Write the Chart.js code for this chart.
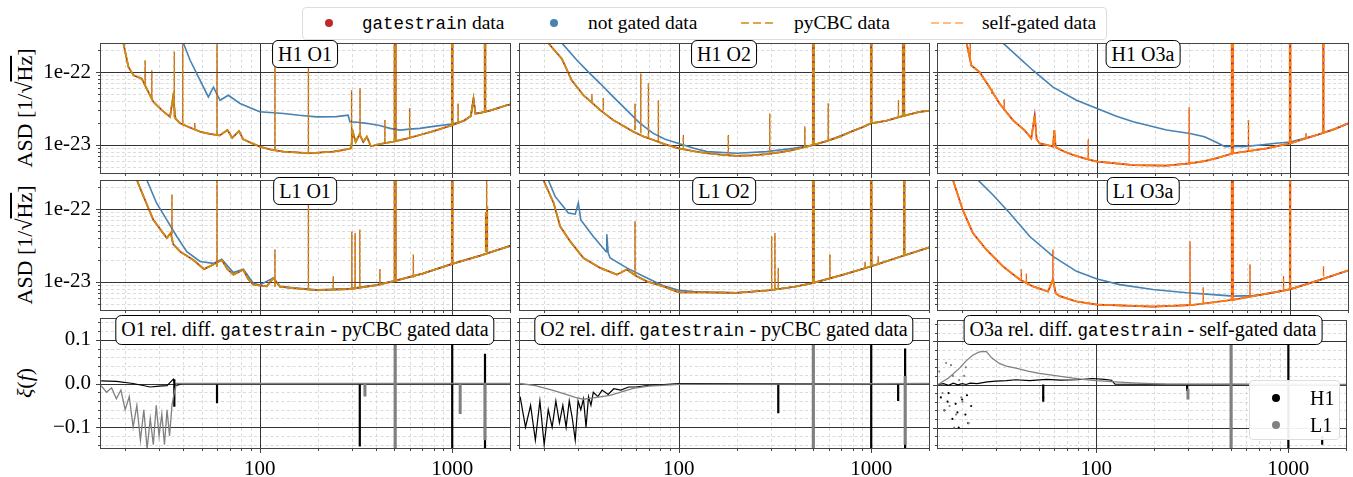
<!DOCTYPE html>
<html>
<head>
<meta charset="utf-8">
<title>gatestrain ASD comparison</title>
<script src="https://cdn.jsdelivr.net/npm/chart.js@4.4.1/dist/chart.umd.min.js"></script>
<style>
  body { margin: 0; background: #fff; }
  #page { position: relative; width: 1353px; height: 477px; overflow: hidden; font-family: "Liberation Serif", serif; color: #000; }
  #page canvas { position: absolute; }
  .box { position: absolute; background: #fff; border: 1px solid #000; border-radius: 6px; font-family: "Liberation Serif", serif; font-size: 20px; line-height: 22px; padding: 2px 5px; white-space: nowrap; transform: translateX(-50%); z-index: 5; }
  .tt { font-family: "Liberation Mono", monospace; font-size: 17.5px; }
  .legend { position: absolute; background: rgba(255,255,255,0.92); border: 1px solid #ddd; border-radius: 4px; z-index: 6; font-family: "Liberation Serif", serif; font-size: 19.5px; }
  .legend .item { position: absolute; white-space: nowrap; line-height: 20px; }
  .dot { position: absolute; width: 8px; height: 8px; border-radius: 50%; }
  .dash { position: absolute; height: 2px; width: 33px; }
  .ylab { position: absolute; white-space: nowrap; font-family: "Liberation Serif", serif; font-size: 22px; transform: translate(-50%, -50%) rotate(-90deg); }
</style>
</head>
<body>
<div id="page">
  <div class="legend" style="left:302px;top:7px;width:803px;height:31px;">
    <span class="dot" style="left:22px;top:11px;background:#c0282d"></span>
    <span class="item" style="left:59px;top:5px"><span class="tt">gatestrain</span> data</span>
    <span class="dot" style="left:247px;top:11px;background:#4682b4"></span>
    <span class="item" style="left:285px;top:5px">not gated data</span>
    <span class="dash" style="left:438px;top:14px;background:repeating-linear-gradient(90deg,#dba74a 0 8px,transparent 8px 12px)"></span>
    <span class="item" style="left:491px;top:5px">pyCBC data</span>
    <span class="dash" style="left:628px;top:14px;background:repeating-linear-gradient(90deg,#ffbe80 0 8px,transparent 8px 12px)"></span>
    <span class="item" style="left:679px;top:5px">self-gated data</span>
  </div>

  <div class="ylab" style="left:25px;top:108px">ASD [1/√<span style="text-decoration:overline">Hz</span>]</div>
  <div class="ylab" style="left:25px;top:245px">ASD [1/√<span style="text-decoration:overline">Hz</span>]</div>
  <div class="ylab" style="left:25px;top:383px"><i>ξ</i>(<i>f</i>)</div>

  <div class="box" style="left:305px;top:40px">H1 O1</div>
  <div class="box" style="left:724px;top:40px">H1 O2</div>
  <div class="box" style="left:1143px;top:40px">H1 O3a</div>
  <div class="box" style="left:305px;top:177px">L1 O1</div>
  <div class="box" style="left:724px;top:177px">L1 O2</div>
  <div class="box" style="left:1143px;top:177px">L1 O3a</div>
  <div class="box" style="left:305px;top:315px">O1 rel. diff. <span class="tt">gatestrain</span> - pyCBC gated data</div>
  <div class="box" style="left:724px;top:315px">O2 rel. diff. <span class="tt">gatestrain</span> - pyCBC gated data</div>
  <div class="box" style="left:1143px;top:315px">O3a rel. diff. <span class="tt">gatestrain</span> - self-gated data</div>

  <div class="legend" style="left:1249px;top:380px;width:89px;height:58px;font-size:20px">
    <span class="dot" style="left:22px;top:13px;background:#000"></span>
    <span class="item" style="left:60px;top:7px">H1</span>
    <span class="dot" style="left:22px;top:40px;background:#808080"></span>
    <span class="item" style="left:60px;top:34px">L1</span>
  </div>
</div>
<script>
// ---- axis ticks ----
const freqTicks = [100, 1000];
const freqTickLabels = ['100', '1000'];
const freqMinor = [20, 30, 40, 50, 60, 70, 80, 90, 200, 300, 400, 500, 600, 700, 800, 900, 2000];
const asdTicks = [1e-23, 1e-22];
const asdTickLabels = ['1e-23', '1e-22'];
const asdMinor = [5e-24, 6e-24, 7e-24, 8e-24, 9e-24, 2e-23, 3e-23, 4e-23, 5e-23, 6e-23, 7e-23, 8e-23, 9e-23, 2e-22];
const diffTicks = [-0.1, 0, 0.1];
const diffTickLabels = ['\u22120.1', '0.0', '0.1'];
const diffMinor = [-0.14, -0.12, -0.08, -0.06, -0.04, -0.02, 0.02, 0.04, 0.06, 0.08, 0.12, 0.14];

// ---- H1 O1 ----
const h1o1F = [15, 19.5, 20.8, 22.1, 24.4, 26.5, 28, 31, 34.2, 35.5, 36.5, 38.6, 43, 49, 55, 62, 68, 72, 78, 82, 88, 100, 115, 133, 155, 179, 210, 241, 270, 298, 305, 315, 330, 345, 360, 378, 420, 494, 580, 679, 800, 1000, 1150, 1250, 1290, 1320, 1400, 1600, 1915, 2020];
const h1o1Gated = [6e-22, 2.6e-22, 1.17e-22, 9.0e-23, 8.1e-23, 5.2e-23, 3.9e-23, 3.0e-23, 2.43e-23, 4.6e-23, 2.3e-23, 1.98e-23, 1.75e-23, 1.52e-23, 1.42e-23, 1.35e-23, 1.6e-23, 1.25e-23, 1.55e-23, 1.2e-23, 1.1e-23, 9.5e-24, 8.6e-24, 8.1e-24, 7.9e-24, 7.7e-24, 7.9e-24, 8.1e-24, 8.5e-24, 9.0e-24, 1.5e-23, 1.1e-23, 1.4e-23, 1.1e-23, 1.3e-23, 9.6e-24, 1.03e-23, 1.11e-23, 1.22e-23, 1.37e-23, 1.55e-23, 1.87e-23, 2.15e-23, 2.5e-23, 4.3e-23, 2.7e-23, 2.75e-23, 3.0e-23, 3.5e-23, 3.6e-23];
const h1o1RawF = [38, 40.1, 43.5, 49, 54.1, 57.5, 62.2, 68.7, 79, 100, 133, 160, 198, 250, 288, 294, 320, 359, 420, 475, 535, 600, 679, 800, 1000, 1150, 1250, 1290, 1320, 1400, 1600, 1915, 2020];
const h1o1Raw = [4e-22, 2.5e-22, 1.45e-22, 7.7e-23, 4.56e-23, 6.2e-23, 4.1e-23, 4.8e-23, 3.7e-23, 2.85e-23, 2.7e-23, 2.55e-23, 2.43e-23, 2.45e-23, 2.56e-23, 2.08e-23, 2.05e-23, 1.98e-23, 1.85e-23, 1.69e-23, 1.6e-23, 1.65e-23, 1.69e-23, 1.8e-23, 1.94e-23, 2.15e-23, 2.5e-23, 4.3e-23, 2.7e-23, 2.75e-23, 3.0e-23, 3.5e-23, 3.6e-23];
const h1o1LineF = [25.4, 27.5, 36, 39.8, 46, 60, 120, 179, 300, 332, 447, 505, 601, 1000, 1073, 1480, 500, 511, 993, 1008, 1470, 1492];
const h1o1LineTop = [1.44e-22, 1.05e-22, 1.9e-22, 5e-22, 2.0e-23, 5e-22, 1.44e-22, 1.12e-22, 5.6e-23, 6e-23, 2.2e-23, 5e-22, 3.2e-23, 5e-22, 3.7e-23, 5e-22, 5e-22, 5e-22, 5e-22, 5e-22, 5e-22, 5e-22];
const h1o1LineBase = [6.5e-23, 4.2e-23, 2.4e-23, 2.0e-23, 1.6e-23, 1.38e-23, 8.4e-24, 7.7e-24, 9.0e-24, 1.3e-23, 1.05e-23, 1.11e-23, 1.25e-23, 1.87e-23, 2.0e-23, 2.8e-23, 1.1e-23, 1.12e-23, 1.86e-23, 1.88e-23, 2.78e-23, 2.8e-23];

// ---- H1 O2 ----
const h1o2F = [15, 20, 21, 24.7, 27.8, 32, 35.4, 39.1, 45.7, 52, 58.1, 66, 73.8, 85, 100, 120, 140, 170, 200, 240, 286, 340, 394, 450, 500, 580, 688, 800, 900, 1000, 1200, 1407, 1791, 2020];
const h1o2Gated = [8e-22, 3.5e-22, 2.5e-22, 1.52e-22, 7.7e-23, 4.8e-23, 3.8e-23, 3.0e-23, 2.19e-23, 1.8e-23, 1.52e-23, 1.3e-23, 1.17e-23, 1.02e-23, 9.0e-24, 8.2e-24, 7.7e-24, 7.3e-24, 7.1e-24, 7.2e-24, 7.5e-24, 8.0e-24, 8.55e-24, 9.3e-24, 1.0e-23, 1.12e-23, 1.3e-23, 1.55e-23, 1.75e-23, 1.98e-23, 2.15e-23, 2.43e-23, 2.85e-23, 2.95e-23];
const h1o2RawF = [22, 24.7, 29.6, 34.6, 39.1, 45.7, 53.7, 63, 73.8, 85, 100, 120, 140, 200, 286, 394, 500, 600, 800, 900, 1000, 1200, 1407, 1791, 2020];
const h1o2Raw = [4e-22, 2.5e-22, 1.45e-22, 9.5e-23, 6.95e-23, 4.56e-23, 3.0e-23, 1.98e-23, 1.44e-23, 1.2e-23, 1.05e-23, 9.0e-24, 8.1e-24, 7.7e-24, 8.1e-24, 9.0e-24, 1.0e-23, 1.15e-23, 1.55e-23, 1.75e-23, 1.98e-23, 2.15e-23, 2.43e-23, 2.85e-23, 2.95e-23];
const h1o2LineF = [35.4, 40.6, 59.3, 63.5, 69.6, 78.4, 105.7, 181, 297, 452, 500, 598, 1000, 1385, 1466, 1480, 496, 506, 993, 1008, 1455, 1490];
const h1o2LineTop = [5e-23, 4.4e-23, 3.7e-23, 9.5e-23, 7e-23, 4.1e-23, 1.37e-23, 1.37e-23, 2.7e-23, 1.8e-23, 5e-22, 3.7e-23, 5e-22, 4.1e-23, 5e-22, 5e-22, 5e-22, 5e-22, 5e-22, 5e-22, 5e-22, 5e-22];
const h1o2LineBase = [3.9e-23, 3.0e-23, 1.6e-23, 1.45e-23, 1.25e-23, 1.12e-23, 8.8e-24, 7.3e-24, 7.5e-24, 9.3e-24, 1.0e-23, 1.15e-23, 1.98e-23, 2.4e-23, 2.45e-23, 2.45e-23, 1.0e-23, 1.0e-23, 1.97e-23, 1.99e-23, 2.44e-23, 2.46e-23];

// ---- H1 O3a ----
const h1o3F = [18, 21, 22.3, 24.6, 27.7, 31.2, 36.6, 42, 45.6, 47.5, 48.6, 50.4, 55, 59.1, 60, 61, 67, 75.1, 85, 100, 125, 153.8, 229, 303, 360, 417, 508, 600, 757, 1000, 1378, 1700, 2020];
const h1o3Gated = [5e-22, 2.6e-22, 1.23e-22, 1.0e-22, 6.2e-23, 3.7e-23, 2.19e-23, 1.6e-23, 1.23e-23, 2.56e-23, 1.2e-23, 1.05e-23, 1.0e-23, 9.5e-24, 1.6e-23, 9.3e-24, 8.2e-24, 7.3e-24, 6.6e-24, 5.9e-24, 5.6e-24, 5.3e-24, 5.2e-24, 5.6e-24, 6.0e-24, 6.6e-24, 7.7e-24, 8.2e-24, 9.0e-24, 1.05e-23, 1.37e-23, 1.65e-23, 2.0e-23];
const h1o3RawF = [30, 32.5, 38.2, 46.6, 59.1, 78.2, 100, 125, 153.8, 229, 303, 360, 417, 460, 520, 570, 700, 820, 1000, 1378, 1700, 2020];
const h1o3Raw = [4e-22, 2.5e-22, 1.69e-22, 1.05e-22, 6.2e-23, 4.1e-23, 3.16e-23, 2.5e-23, 2.08e-23, 1.6e-23, 1.44e-23, 1.3e-23, 1.08e-23, 9.5e-24, 9.6e-24, 9.5e-24, 1.0e-23, 1.05e-23, 1.1e-23, 1.37e-23, 1.65e-23, 2.0e-23];
const h1o3LineF = [21, 22, 28.5, 33, 90, 300, 502, 609, 1000, 1210, 1488, 497, 508, 993, 1008, 1480, 1496];
const h1o3LineTop = [5e-22, 3e-22, 5.8e-23, 4.2e-23, 1.2e-23, 3.3e-23, 5e-22, 2.2e-23, 5e-22, 1.45e-23, 5e-22, 5e-22, 5e-22, 5e-22, 5e-22, 5e-22, 5e-22];
const h1o3LineBase = [2.6e-22, 1.5e-22, 5.0e-23, 3.0e-23, 6.3e-24, 5.6e-24, 7.7e-24, 8.3e-24, 1.05e-23, 1.23e-23, 1.5e-23, 7.6e-24, 7.7e-24, 1.04e-23, 1.06e-23, 1.5e-23, 1.5e-23];

// ---- L1 O1 ----
const l1o1F = [15, 21, 23, 24.9, 28, 32.9, 34.5, 35.5, 38.6, 45.2, 51.4, 57.4, 63.5, 68, 73, 82.2, 87, 92.6, 108.7, 117.7, 127.5, 150, 198, 294, 400, 494, 700, 1000, 1400, 2020];
const l1o1Gated = [8e-22, 3.5e-22, 2.5e-22, 1.49e-22, 7.1e-23, 4.0e-23, 4.7e-23, 3.3e-23, 2.6e-23, 2.0e-23, 1.5e-23, 1.73e-23, 2.0e-23, 1.5e-23, 1.26e-23, 1.47e-23, 1.1e-23, 9.2e-24, 8.7e-24, 1.13e-23, 8.6e-24, 8.2e-24, 7.7e-24, 8.0e-24, 9.0e-24, 1.02e-23, 1.3e-23, 1.77e-23, 2.3e-23, 3.15e-23];
const l1o1RawF = [24, 25.9, 29.1, 32.9, 37.1, 41.8, 49, 57.4, 63.5, 73, 82.2, 92.6, 100, 117.7, 127.5, 150, 198, 294, 400, 494, 700, 1000, 1400, 2020];
const l1o1Raw = [3.5e-22, 2.5e-22, 1.21e-22, 7.1e-23, 4.2e-23, 2.6e-23, 1.91e-23, 1.8e-23, 2.05e-23, 1.35e-23, 1.5e-23, 9.6e-24, 9.1e-24, 1.13e-23, 8.7e-24, 8.3e-24, 7.8e-24, 8.1e-24, 9.1e-24, 1.03e-23, 1.3e-23, 1.77e-23, 2.3e-23, 3.15e-23];
const l1o1LineF = [35, 60, 120, 179, 241, 301, 313, 331, 421, 505, 628, 1000, 1510, 500, 511, 993, 1008, 1490, 1525];
const l1o1LineTop = [1.57e-22, 5e-22, 2.77e-23, 5e-22, 1.2e-23, 4.9e-23, 4.7e-23, 5.2e-23, 1.5e-23, 5e-22, 2.37e-23, 5e-22, 5e-22, 5e-22, 5e-22, 5e-22, 5e-22, 9e-23, 1.1e-22];
const l1o1LineBase = [4.5e-23, 1.6e-23, 8.6e-24, 7.8e-24, 7.9e-24, 8.0e-24, 8.1e-24, 8.3e-24, 9.0e-24, 1.02e-23, 1.15e-23, 1.77e-23, 2.6e-23, 1.02e-23, 1.02e-23, 1.77e-23, 1.78e-23, 2.58e-23, 2.62e-23];

// ---- L1 O2 ----
const l1o2F = [15, 19.8, 22.4, 24.2, 27.3, 32, 39.1, 47.7, 53.7, 60.5, 68.2, 83.2, 100, 145, 200, 297, 400, 500, 716, 1003, 1400, 2020];
const l1o2Gated = [1e-21, 2.5e-22, 1.21e-22, 5.8e-23, 3.6e-23, 2.13e-23, 1.56e-23, 1.26e-23, 1.48e-23, 1.2e-23, 1.02e-23, 8.7e-24, 7.2e-24, 7.2e-24, 7.1e-24, 7.7e-24, 8.6e-24, 9.7e-24, 1.26e-23, 1.64e-23, 2.2e-23, 3.0e-23];
const l1o2RawF = [19, 21, 22.8, 25, 26.7, 29, 30.1, 31, 36, 42, 42.3, 43, 44, 53.7, 65.5, 83.2, 100, 120, 145, 200, 297, 400, 500, 716, 1003, 1400, 2020];
const l1o2Raw = [4e-22, 2.5e-22, 1.49e-22, 1.1e-22, 8.8e-23, 8.5e-23, 1.21e-22, 7.1e-23, 4.2e-23, 2.6e-23, 4.5e-23, 2.5e-23, 2.13e-23, 1.56e-23, 1.2e-23, 8.9e-24, 7.7e-24, 7.4e-24, 7.2e-24, 7.1e-24, 7.7e-24, 8.6e-24, 9.7e-24, 1.26e-23, 1.64e-23, 2.2e-23, 3.0e-23];
const l1o2LineF = [59.3, 304, 316, 329, 500, 610, 929, 1000, 1087, 1485, 496, 506, 993, 1008, 1475, 1495];
const l1o2LineTop = [6.8e-23, 4.2e-23, 4.7e-23, 1.56e-23, 5e-22, 2.37e-23, 1.9e-23, 5e-22, 2.24e-23, 5e-22, 5e-22, 5e-22, 5e-22, 5e-22, 5e-22, 5e-22];
const l1o2LineBase = [1.2e-23, 7.7e-24, 7.8e-24, 7.9e-24, 9.7e-24, 1.1e-23, 1.55e-23, 1.64e-23, 1.75e-23, 2.35e-23, 9.7e-24, 9.7e-24, 1.63e-23, 1.65e-23, 2.34e-23, 2.36e-23];

// ---- L1 O3a ----
const l1o3F = [15, 17.9, 20.1, 22.7, 26.7, 32.5, 39.7, 46.5, 55.7, 59, 61, 64, 78.2, 100, 195, 303, 508, 1000, 1400, 2020];
const l1o3Gated = [6e-22, 2.5e-22, 9.8e-23, 4.7e-23, 2.77e-23, 1.64e-23, 1.08e-23, 8.7e-24, 7.4e-24, 1.08e-23, 7.0e-24, 6.4e-24, 5.4e-24, 4.9e-24, 4.6e-24, 4.8e-24, 5.7e-24, 7.9e-24, 1.05e-23, 1.45e-23];
const l1o3RawF = [22, 24.1, 28.8, 35.2, 44.8, 59.1, 78.2, 100, 131, 195, 291, 400, 508, 645, 800, 1000, 1400, 2020];
const l1o3Raw = [3.5e-22, 2.5e-22, 1.57e-22, 8.8e-23, 4.2e-23, 2.24e-23, 1.4e-23, 1.1e-23, 9.2e-24, 7.9e-24, 7.1e-24, 6.7e-24, 6.4e-24, 6.5e-24, 7.0e-24, 8.0e-24, 1.05e-23, 1.45e-23];
const l1o3LineF = [40.5, 43, 59, 303, 355, 502, 620, 925, 1000, 1490, 497, 508, 995, 1006];
const l1o3LineTop = [1.48e-23, 1.3e-23, 2.77e-23, 3.6e-23, 8.4e-24, 5e-22, 1.73e-23, 1.2e-23, 5e-22, 1.64e-23, 5e-22, 5e-22, 5e-22, 5e-22];
const l1o3LineBase = [1.05e-23, 9.5e-24, 1.0e-23, 4.8e-24, 5.0e-24, 5.7e-24, 6.2e-24, 7.6e-24, 7.9e-24, 1.2e-23, 5.7e-24, 5.7e-24, 7.9e-24, 7.9e-24];

// ---- relative differences O1 ----
const o1H1F = [15, 18, 22, 27, 30, 33, 35.6, 36.5, 40, 100, 2020];
const o1H1 = [0.006, 0.005, 0.0, -0.008, -0.006, -0.005, 0.01, -0.005, 0.0, 0.0, 0.0];
const o1H1LineF = [36, 60, 331, 505, 1000, 1480];
const o1H1LineHi = [0.01, 0.0, 0.0, 0.15, 0.16, 0.068];
const o1H1LineLo = [-0.053, -0.045, -0.144, -0.16, -0.16, -0.16];
const o1L1F = [15, 16, 17, 18, 19, 20, 21, 22, 23, 24, 25, 26, 27, 28, 29, 30, 31, 32, 33, 34, 35, 36, 37, 40, 100, 2020];
const o1L1 = [-0.005, -0.02, -0.01, -0.035, -0.015, -0.06, -0.03, -0.1, -0.05, -0.13, -0.06, -0.15, -0.08, -0.14, -0.05, -0.12, -0.07, -0.14, -0.06, -0.12, -0.05, -0.02, 0.0, 0.0, 0.0, 0.0];
const o1L1LineF = [352, 505, 1100, 1480];
const o1L1LineHi = [0.0, 0.15, 0.0, 0.0];
const o1L1LineLo = [-0.03, -0.16, -0.07, -0.13];

// ---- relative differences O2 ----
const o2H1F = [15, 16, 17, 18, 19, 20, 21, 22, 23, 24, 25, 26, 27, 28, 29, 30, 31, 32, 33, 34, 35, 36, 38, 40, 43, 46, 50, 55, 60, 70, 80, 100, 2020];
const o2H1 = [-0.03, -0.1, -0.05, -0.13, -0.04, -0.14, -0.06, -0.1, -0.04, -0.09, -0.05, -0.1, -0.04, -0.08, -0.13, -0.04, -0.06, -0.035, -0.1, -0.03, -0.05, -0.02, -0.03, -0.015, -0.025, -0.012, -0.015, -0.008, -0.008, -0.004, -0.003, 0.0, 0.0];
const o2H1LineF = [329, 500, 1000, 1380, 1500];
const o2H1LineHi = [0.0, 0.16, 0.16, 0.0, 0.08];
const o2H1LineLo = [-0.068, -0.16, -0.16, -0.04, -0.16];
const o2L1F = [15, 18, 22, 26, 29, 32, 36, 44, 50, 58, 70, 100, 2020];
const o2L1 = [0.0, -0.005, -0.015, -0.025, -0.032, -0.036, -0.033, -0.027, -0.02, -0.011, -0.006, -0.002, 0.0];
const o2L1LineF = [500, 1500];
const o2L1LineHi = [0.16, 0.017];
const o2L1LineLo = [-0.16, -0.14];

// ---- relative differences O3a ----
const o3H1F = [15, 16, 17, 18, 19, 20, 21, 22, 24, 27, 30, 34, 38.1, 45, 55, 65, 80, 95.3, 110, 120, 125, 2020];
const o3H1 = [0.0, 0.002, -0.002, 0.003, -0.001, 0.002, 0.0, 0.003, 0.002, 0.006, 0.008, 0.009, 0.011, 0.009, 0.012, 0.01, 0.011, 0.014, 0.012, 0.01, 0.001, 0.0];
const o3H1DotF = [15.5, 16.2, 16.8, 17, 17.8, 18.5, 18.9, 19.2, 20, 20.8, 21.2, 21.5, 22.3, 52.9];
const o3H1Dot = [-0.03, -0.06, -0.04, -0.02, -0.08, -0.045, -0.065, -0.1, -0.035, -0.07, -0.025, -0.09, -0.05, -0.03];
const o3H1LineF = [52.9, 297, 503, 1000, 1500];
const o3H1LineHi = [0.0, 0.0, 0.15, 0.16, -0.12];
const o3H1LineLo = [-0.04, -0.015, -0.16, -0.16, -0.14];
const o3L1F = [15, 17, 19.4, 21, 22.7, 24.6, 26.7, 28.5, 31.2, 34, 38.1, 44, 50.4, 60, 69.4, 85, 100, 125, 154, 230, 2020];
const o3L1 = [0.0, 0.015, 0.038, 0.055, 0.068, 0.076, 0.077, 0.062, 0.049, 0.043, 0.038, 0.031, 0.026, 0.021, 0.017, 0.012, 0.009, 0.006, 0.004, 0.001, 0.0];
const o3L1DotF = [15.2, 15.8, 16.1, 16.5, 17.2, 17.5, 17.9, 18.2, 18.6, 19.3, 19.8, 20.1, 20.5, 20.9, 21.6];
const o3L1Dot = [0.03, -0.02, -0.06, 0.05, -0.05, 0.045, 0.02, -0.1, -0.07, 0.01, -0.03, -0.04, 0.02, 0.04, -0.09];
const o3L1LineF = [300, 503];
const o3L1LineHi = [-0.01, 0.15];
const o3L1LineLo = [-0.035, -0.16];

// ---- styling / layout ----
const RED = '#c0282d', BLUE = '#4682b4', PYCBC = '#c8900f', SELF = '#ff7f0e', H1C = '#000000', L1C = '#808080';
const FONT = '"Liberation Serif", serif';
const colX = [100, 519, 937], colW = [411, 411, 412], rowY = [43, 180, 318], rowH = 131;

Chart.defaults.font.family = FONT;
Chart.defaults.color = '#000';

function xy(F, V) { return F.map((f, i) => ({ x: f, y: V[i] })); }
function bars(F, lo, hi) {
  const out = [];
  F.forEach((f, i) => { out.push({ x: f, y: lo[i] }, { x: f, y: hi[i] }, { x: f, y: null }); });
  return out;
}
function line(data, color, width, dash) {
  return { data, borderColor: color, borderWidth: width, borderDash: dash || [], pointRadius: 0, fill: false, tension: 0, spanGaps: false };
}
function dots(data, color) {
  return { data, showLine: false, pointRadius: 1.1, pointBackgroundColor: color, pointBorderWidth: 0, borderColor: color };
}

// matplotlib-like grid, spines and tick marks
const mplFrame = {
  id: 'mplFrame',
  beforeDatasetsDraw(chart, args, o) {
    const { ctx, chartArea: a, scales: { x, y } } = chart;
    ctx.save();
    ctx.beginPath(); ctx.rect(a.left, a.top, a.right - a.left, a.bottom - a.top); ctx.clip();
    ctx.setLineDash([3, 2.5]); ctx.strokeStyle = '#d2d2d2'; ctx.lineWidth = 0.8;
    ctx.beginPath();
    freqMinor.forEach(f => { const p = Math.round(x.getPixelForValue(f)) + 0.5; ctx.moveTo(p, a.top); ctx.lineTo(p, a.bottom); });
    o.yMinor.forEach(v => { const p = Math.round(y.getPixelForValue(v)) + 0.5; ctx.moveTo(a.left, p); ctx.lineTo(a.right, p); });
    ctx.stroke();
    ctx.setLineDash([]); ctx.strokeStyle = '#333'; ctx.lineWidth = 1;
    ctx.beginPath();
    freqTicks.forEach(f => { const p = Math.round(x.getPixelForValue(f)) + 0.5; ctx.moveTo(p, a.top); ctx.lineTo(p, a.bottom); });
    o.yMajor.forEach(v => { const p = Math.round(y.getPixelForValue(v)) + 0.5; ctx.moveTo(a.left, p); ctx.lineTo(a.right, p); });
    ctx.stroke();
    ctx.restore();
  },
  afterDatasetsDraw(chart, args, o) {
    const { ctx, chartArea: a, scales: { x, y } } = chart;
    ctx.save();
    ctx.strokeStyle = '#444'; ctx.lineWidth = 1;
    ctx.strokeRect(a.left + 0.5, a.top + 0.5, a.right - a.left - 1, a.bottom - a.top - 1);
    ctx.beginPath();
    o.yMajor.forEach(v => { const p = Math.round(y.getPixelForValue(v)) + 0.5; ctx.moveTo(a.left, p); ctx.lineTo(a.left - 4, p); });
    o.yMinor.forEach(v => { const p = Math.round(y.getPixelForValue(v)) + 0.5; ctx.moveTo(a.left, p); ctx.lineTo(a.left - 2, p); });
    freqTicks.forEach(f => { const p = Math.round(x.getPixelForValue(f)) + 0.5; ctx.moveTo(p, a.bottom); ctx.lineTo(p, a.bottom + 4); });
    freqMinor.forEach(f => { const p = Math.round(x.getPixelForValue(f)) + 0.5; ctx.moveTo(p, a.bottom); ctx.lineTo(p, a.bottom + 2); });
    ctx.stroke();
    ctx.restore();
  }
};

// fixed axis sizes so the plot areas line up like matplotlib subplots
function fixSize(prop, size) {
  return s => {
    s[prop] = size;
    s.paddingTop = 0; s.paddingBottom = 0; s.paddingLeft = 0; s.paddingRight = 0;
  };
}

function makeChart(r, c, kind, datasets) {
  const cv = document.createElement('canvas');
  const showX = r === 2, showY = c === 0;
  const padL = showY ? 0 : 6, padB = showX ? 0 : 6;
  const w = (showY ? 100 : padL) + colW[c] + 2;
  const h = 2 + rowH + (showX ? 32 : padB);
  cv.width = w; cv.height = h;
  cv.style.width = w + 'px'; cv.style.height = h + 'px';
  cv.style.left = (colX[c] - (showY ? 100 : padL)) + 'px';
  cv.style.top = (rowY[r] - 2) + 'px';
  document.getElementById('page').appendChild(cv);
  const asd = kind === 'asd';
  const yTicks = asd ? asdTicks : diffTicks, yLabels = asd ? asdTickLabels : diffTickLabels;
  new Chart(cv, {
    type: 'line',
    data: { datasets },
    options: {
      responsive: false, maintainAspectRatio: false, animation: false, devicePixelRatio: 1,
      layout: { padding: { left: padL, right: 2, top: 2, bottom: padB } },
      plugins: {
        legend: { display: false }, tooltip: { enabled: false },
        mplFrame: { yMajor: yTicks, yMinor: asd ? asdMinor : diffMinor }
      },
      scales: {
        x: {
          type: 'logarithmic', min: 14.8, max: 2020, display: showX,
          afterBuildTicks: s => { s.ticks = freqTicks.map(v => ({ value: v })); },
          afterFit: fixSize('height', showX ? 32 : 0),
          grid: { display: false, drawTicks: false }, border: { display: false },
          ticks: { autoSkip: false, maxRotation: 0, padding: 8, font: { family: FONT, size: 21 }, color: '#000', callback: (v, i) => freqTickLabels[i] }
        },
        y: {
          type: asd ? 'logarithmic' : 'linear',
          min: asd ? 4e-24 : -0.15, max: asd ? 2.5e-22 : 0.15,
          display: showY,
          afterBuildTicks: s => { s.ticks = yTicks.map(v => ({ value: v })); },
          afterFit: fixSize('width', showY ? 100 : 0),
          grid: { display: false, drawTicks: false }, border: { display: false },
          ticks: { autoSkip: false, padding: 9, font: { family: FONT, size: 21 }, color: '#000', callback: (v, i) => yLabels[i] }
        }
      }
    },
    plugins: [mplFrame]
  });
}

// first dataset is drawn on top
function asdSets(gF, gV, rF, rV, lF, lBase, lTop, gateColor) {
  return [
    line(bars(lF, lBase, lTop), gateColor, 1.5, [5, 2]),
    line(xy(gF, gV), gateColor, 1.8, [9, 1.5]),
    line(bars(lF, lBase, lTop), RED, 1.0),
    line(xy(gF, gV), RED, 1.7),
    line(xy(rF, rV), BLUE, 1.6)
  ];
}
function diffSets(h1F, h1, h1LF, h1Lo, h1Hi, l1F, l1, l1LF, l1Lo, l1Hi, h1DF, h1D, l1DF, l1D) {
  return [
    line(bars(l1LF, l1Lo, l1Hi), L1C, 3),
    line(xy(l1F, l1), L1C, 1.3),
    dots(xy(l1DF || [], l1D || []), L1C),
    line(bars(h1LF, h1Lo, h1Hi), H1C, 2.2),
    line(xy(h1F, h1), H1C, 1.2),
    dots(xy(h1DF || [], h1D || []), H1C)
  ];
}

makeChart(0, 0, 'asd', asdSets(h1o1F, h1o1Gated, h1o1RawF, h1o1Raw, h1o1LineF, h1o1LineBase, h1o1LineTop, PYCBC));
makeChart(0, 1, 'asd', asdSets(h1o2F, h1o2Gated, h1o2RawF, h1o2Raw, h1o2LineF, h1o2LineBase, h1o2LineTop, PYCBC));
makeChart(0, 2, 'asd', asdSets(h1o3F, h1o3Gated, h1o3RawF, h1o3Raw, h1o3LineF, h1o3LineBase, h1o3LineTop, SELF));
makeChart(1, 0, 'asd', asdSets(l1o1F, l1o1Gated, l1o1RawF, l1o1Raw, l1o1LineF, l1o1LineBase, l1o1LineTop, PYCBC));
makeChart(1, 1, 'asd', asdSets(l1o2F, l1o2Gated, l1o2RawF, l1o2Raw, l1o2LineF, l1o2LineBase, l1o2LineTop, PYCBC));
makeChart(1, 2, 'asd', asdSets(l1o3F, l1o3Gated, l1o3RawF, l1o3Raw, l1o3LineF, l1o3LineBase, l1o3LineTop, SELF));
makeChart(2, 0, 'diff', diffSets(o1H1F, o1H1, o1H1LineF, o1H1LineLo, o1H1LineHi, o1L1F, o1L1, o1L1LineF, o1L1LineLo, o1L1LineHi));
makeChart(2, 1, 'diff', diffSets(o2H1F, o2H1, o2H1LineF, o2H1LineLo, o2H1LineHi, o2L1F, o2L1, o2L1LineF, o2L1LineLo, o2L1LineHi));
makeChart(2, 2, 'diff', diffSets(o3H1F, o3H1, o3H1LineF, o3H1LineLo, o3H1LineHi, o3L1F, o3L1, o3L1LineF, o3L1LineLo, o3L1LineHi, o3H1DotF, o3H1Dot, o3L1DotF, o3L1Dot));
</script>
</body>
</html>
